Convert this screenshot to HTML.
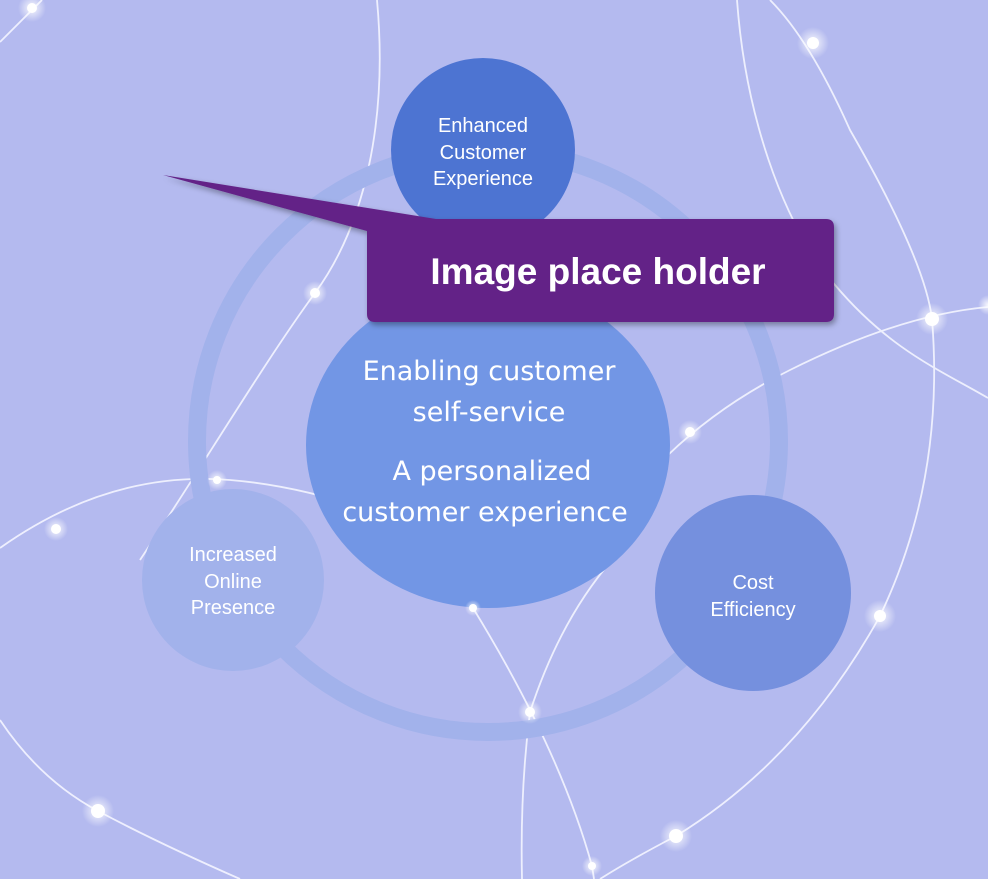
<!DOCTYPE html>
<html><head><meta charset="utf-8"><style>
html,body{margin:0;padding:0;}
body{width:988px;height:879px;overflow:hidden;background:#b4baef;font-family:"Liberation Sans",sans-serif;}
svg{display:block}
</style></head><body>
<svg width="988" height="879" viewBox="0 0 988 879" xmlns="http://www.w3.org/2000/svg">
<defs>
<radialGradient id="g"><stop offset="0" stop-color="#fff" stop-opacity="0.9"/><stop offset="1" stop-color="#fff" stop-opacity="0"/></radialGradient>
<filter id="sh" x="-10%" y="-10%" width="120%" height="130%"><feDropShadow dx="2" dy="3" stdDeviation="3" flood-color="#000" flood-opacity="0.35"/></filter>
</defs>
<rect width="988" height="879" fill="#b4baef"/>
<g fill="none" stroke="#f4f5ff" stroke-width="1.8" opacity="0.9">
<path d="M0,42 Q20,22 42,0"/>
<path d="M377,0 C388,120 365,225 315,293 S200,470 140,560"/>
<path d="M0,548 Q110,470 230,480 T480,560"/>
<path d="M0,720 Q40,780 98,811 T240,879"/>
<path d="M737,0 C745,110 780,220 835,285 S940,370 988,398"/>
<path d="M770,0 Q810,40 850,130 Q925,260 932,319 Q945,480 880,616 Q800,760 676,836 Q630,860 600,879"/>
<path d="M988,307 Q900,315 790,370 Q720,405 668,455"/>
<path d="M530,712 Q520,790 522,879"/>
<path d="M473,608 Q560,750 592,866 L594,879"/>
<path d="M612,560 Q560,620 530,712"/>
</g>
<circle cx="488" cy="441" r="291" fill="none" stroke="#a2b2eb" stroke-width="18"/>
<circle cx="483" cy="150" r="92" fill="#4d74d2"/>
<circle cx="233" cy="580" r="91" fill="#a2b2eb"/>
<circle cx="753" cy="593" r="98" fill="#7590de"/>
<ellipse cx="488" cy="445" rx="182" ry="163" fill="#7296e5"/>
<g>
<circle cx="32" cy="8" r="14" fill="url(#g)"/><circle cx="32" cy="8" r="5" fill="#fff"/>
<circle cx="813" cy="43" r="16" fill="url(#g)"/><circle cx="813" cy="43" r="6" fill="#fff"/>
<circle cx="932" cy="319" r="16" fill="url(#g)"/><circle cx="932" cy="319" r="7" fill="#fff"/>
<circle cx="315" cy="293" r="12" fill="url(#g)"/><circle cx="315" cy="293" r="5" fill="#fff"/>
<circle cx="690" cy="432" r="12" fill="url(#g)"/><circle cx="690" cy="432" r="5" fill="#fff"/>
<circle cx="217" cy="480" r="10" fill="url(#g)"/><circle cx="217" cy="480" r="4" fill="#fff"/>
<circle cx="56" cy="529" r="12" fill="url(#g)"/><circle cx="56" cy="529" r="5" fill="#fff"/>
<circle cx="880" cy="616" r="16" fill="url(#g)"/><circle cx="880" cy="616" r="6" fill="#fff"/>
<circle cx="98" cy="811" r="16" fill="url(#g)"/><circle cx="98" cy="811" r="7" fill="#fff"/>
<circle cx="676" cy="836" r="16" fill="url(#g)"/><circle cx="676" cy="836" r="7" fill="#fff"/>
<circle cx="592" cy="866" r="10" fill="url(#g)"/><circle cx="592" cy="866" r="4" fill="#fff"/>
<circle cx="530" cy="712" r="12" fill="url(#g)"/><circle cx="530" cy="712" r="5" fill="#fff"/>
<circle cx="473" cy="608" r="8" fill="url(#g)"/><circle cx="473" cy="608" r="4" fill="#fff"/>
<circle cx="988" cy="305" r="10" fill="url(#g)"/>
</g>
<g fill="#fff" font-family="Liberation Sans, sans-serif" font-size="20" text-anchor="middle">
<text x="483" y="132">Enhanced</text>
<text x="483" y="159">Customer</text>
<text x="483" y="185">Experience</text>
<text x="233" y="561">Increased</text>
<text x="233" y="588">Online</text>
<text x="233" y="614">Presence</text>
<text x="753" y="589">Cost</text>
<text x="753" y="616">Efficiency</text>
</g>
<g fill="#fff" font-family="DejaVu Sans, sans-serif" font-size="27" text-anchor="middle">
<text x="489" y="380">Enabling customer</text>
<text x="489" y="421">self-service</text>
<text x="492" y="480">A personalized</text>
<text x="485" y="521">customer experience</text>
</g>
<g filter="url(#sh)">
<path d="M163,175 L436,219 L826,219 Q834,219 834,227 L834,314 Q834,322 826,322 L375,322 Q367,322 367,314 L367,231 Z" fill="#632287"/>
</g>
<text x="598" y="284" fill="#fff" font-family="Liberation Sans, sans-serif" font-weight="bold" font-size="37" text-anchor="middle">Image place holder</text>
</svg>
</body></html>
